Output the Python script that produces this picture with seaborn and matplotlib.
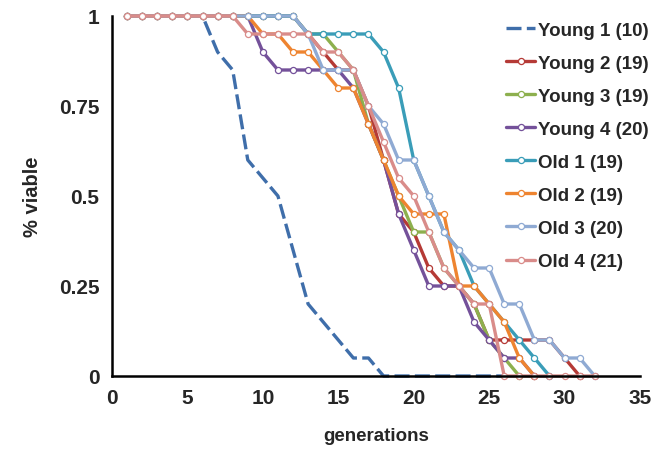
import matplotlib
matplotlib.use("Agg")
import matplotlib.pyplot as plt
import seaborn as sns
import pandas as pd

# ---------------- data ----------------
series_names = ["Young 1 (10)", "Young 2 (19)", "Young 3 (19)", "Young 4 (20)",
                "Old 1 (19)", "Old 2 (19)", "Old 3 (20)", "Old 4 (21)"]

young1 = [1, 1, 1, 1, 1, 1, 0.9, 0.85, 0.6, 0.55, 0.5, 0.35, 0.2, 0.15, 0.1, 0.05,
          0.05, 0, 0, 0, 0, 0, 0, 0, 0, 0]
young2 = [1, 1, 1, 1, 1, 1, 1, 1, 1, 1, 1, 1, 0.95, 0.9, 0.85, 0.85, 0.75, 0.6, 0.45,
          0.4, 0.3, 0.25, 0.25, 0.2, 0.1, 0.1, 0.1, 0.1, 0.1, 0.05, 0]
young3 = [1, 1, 1, 1, 1, 1, 1, 1, 1, 1, 1, 1, 0.95, 0.95, 0.9, 0.85, 0.7, 0.6, 0.5,
          0.4, 0.4, 0.3, 0.25, 0.2, 0.1, 0.05, 0]
young4 = [1, 1, 1, 1, 1, 1, 1, 1, 1, 0.9, 0.85, 0.85, 0.85, 0.85, 0.85, 0.8, 0.7, 0.6,
          0.45, 0.35, 0.25, 0.25, 0.25, 0.15, 0.1, 0.05, 0.05, 0]
old1 = [1, 1, 1, 1, 1, 1, 1, 1, 1, 1, 1, 1, 0.95, 0.95, 0.95, 0.95, 0.95, 0.9, 0.8,
        0.6, 0.5, 0.4, 0.35, 0.25, 0.2, 0.15, 0.1, 0.05, 0]
old2 = [1, 1, 1, 1, 1, 1, 1, 1, 1, 0.95, 0.95, 0.9, 0.9, 0.85, 0.8, 0.8, 0.7, 0.6,
        0.5, 0.45, 0.45, 0.45, 0.25, 0.25, 0.2, 0.15, 0.05, 0]
old3 = [1, 1, 1, 1, 1, 1, 1, 1, 1, 1, 1, 1, 0.95, 0.85, 0.85, 0.85, 0.75, 0.7, 0.6,
        0.6, 0.5, 0.4, 0.35, 0.3, 0.3, 0.2, 0.2, 0.1, 0.1, 0.05, 0.05, 0]
old4 = [1, 1, 1, 1, 1, 1, 1, 1, 0.95, 0.95, 0.95, 0.95, 0.95, 0.9, 0.9, 0.85, 0.75,
        0.65, 0.55, 0.5, 0.4, 0.3, 0.25, 0.2, 0.2, 0, 0, 0, 0, 0, 0, 0]

all_series = [young1, young2, young3, young4, old1, old2, old3, old4]

colors = ["#3F6EAA", "#B53A36", "#8DB04E", "#74519A",
          "#3A9DB8", "#EE8430", "#8FAAD3", "#D98C8A"]

x_ticks = [0, 5, 10, 15, 20, 25, 30, 35]
y_ticks = [0, 0.25, 0.5, 0.75, 1]
y_tick_labels = ["0", "0.25", "0.5", "0.75", "1"]

# ---------------- figure ----------------
sns.set_style("white")
plt.rcParams["font.family"] = ["Liberation Sans", "DejaVu Sans"]
plt.rcParams["font.weight"] = "bold"

fig = plt.figure(figsize=(6.64, 4.6), dpi=100)
ax = fig.add_axes([112 / 664, 1 - 377 / 460, (640 - 112) / 664, (377 - 17) / 460])

for name, vals, col in zip(series_names, all_series, colors):
    df = pd.DataFrame({"generation": list(range(1, len(vals) + 1)), "viable": vals})
    if name.startswith("Young 1"):
        sns.lineplot(data=df, x="generation", y="viable", ax=ax, color=col,
                     linewidth=2.4, label=name)
        ax.lines[-1].set_dashes([4.5, 1.6])
    else:
        sns.lineplot(data=df, x="generation", y="viable", ax=ax, color=col,
                     linewidth=2.4, marker="o", markersize=4.4,
                     markerfacecolor="white", markeredgecolor=col,
                     markeredgewidth=0.9, label=name)

ax.set_xlim(0, 35)
ax.set_ylim(0, 1)
ax.set_xticks(x_ticks)
ax.set_yticks(y_ticks)
ax.set_yticklabels(y_tick_labels)
ax.tick_params(axis="both", labelsize=15, width=1.6, length=5, color="black",
               direction="out", pad=4)
for lab in ax.get_xticklabels() + ax.get_yticklabels():
    lab.set_fontweight("bold")

for side in ["top", "right"]:
    ax.spines[side].set_visible(False)
for side in ["left", "bottom"]:
    ax.spines[side].set_color("black")
    ax.spines[side].set_linewidth(1.8)
for ln in ax.lines:
    ln.set_clip_on(False)

ax.set_xlabel("generations", fontsize=13.5, fontweight="bold", labelpad=14)
ax.set_ylabel("% viable", fontsize=14.5, fontweight="bold", labelpad=12)

leg = ax.legend(loc="upper right", bbox_to_anchor=(656 / 664, 1 - 15 / 460),
                bbox_transform=fig.transFigure, frameon=False,
                fontsize=13.5, handlelength=1.55, handletextpad=0.15,
                labelspacing=0.85, borderaxespad=0, numpoints=1)
for t in leg.get_texts():
    t.set_fontweight("bold")

fig.savefig("out.png", dpi=100)
